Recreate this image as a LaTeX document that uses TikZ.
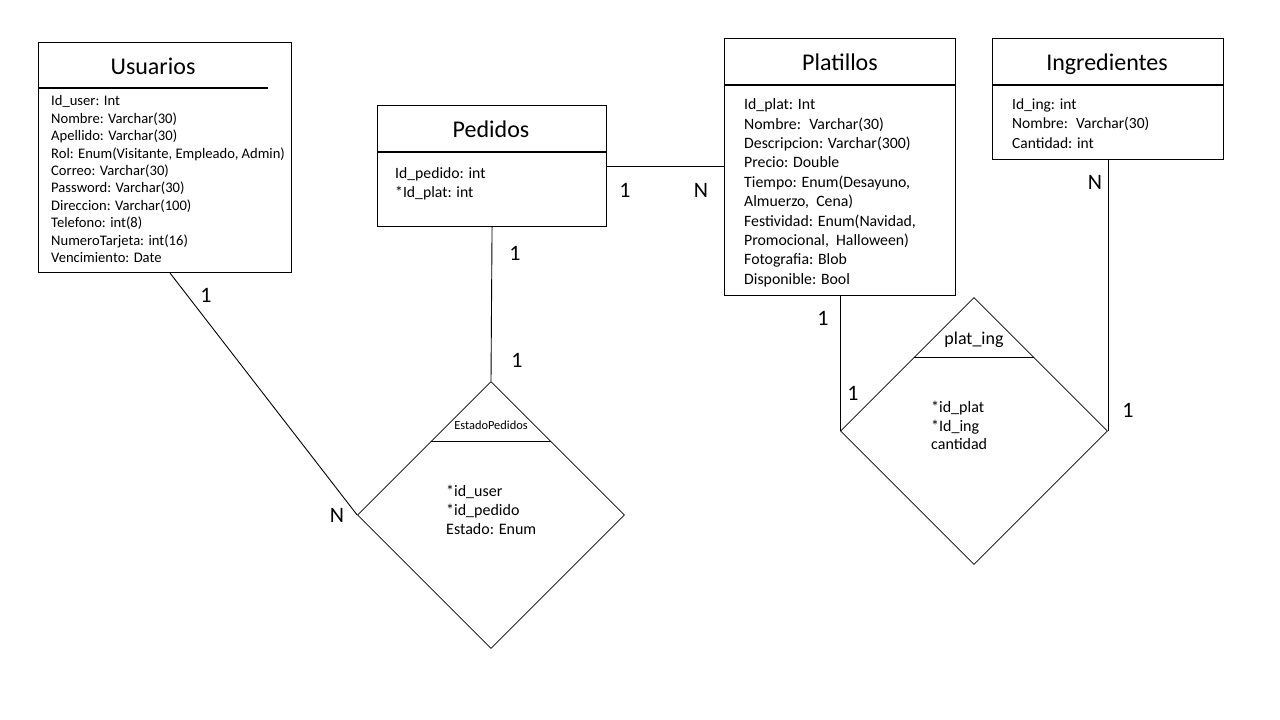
\documentclass[tikz,border=0pt]{standalone}
\usepackage{fontspec}
\setmainfont{Carlito}
\usetikzlibrary{shapes.geometric,calc}
\begin{document}
\begin{tikzpicture}[x=1pt,y=-1pt,
 ent/.style={draw, line width=1.1pt, inner sep=0, anchor=north west},
 rel/.style={draw, diamond, line width=0.7pt, inner sep=0, minimum width=267pt, minimum height=267pt, aspect=1},
 ttl/.style={font=\fontsize{24}{28}\selectfont, inner sep=0, anchor=base},
 attr/.style={align=left, inner sep=0, anchor=north west},
 card/.style={font=\fontsize{22}{26}\selectfont, inner sep=0},
 conn/.style={line width=0.9pt},
 sep/.style={line width=1.1pt}]
\useasboundingbox[fill=white] (0,0) rectangle (1280,720);

% Usuarios
\node[ent, minimum width=253pt, minimum height=230pt] (usu) at (38,42) {};
\coordinate (usuSepA) at (38,88);
\coordinate (usuSepB) at (268,88);
\draw[sep] (usuSepA) -- (usuSepB);
\node[ttl] (usut) at (153,74.5) {Usuarios};
\node[attr, font=\fontsize{14.6}{17.4}\selectfont] (usua) at (51,95.5) {Id\_user: Int\\
Nombre: Varchar(30)\\
Apellido: Varchar(30)\\
Rol: Enum(Visitante, Empleado, Admin)\\
Correo: Varchar(30)\\
Password: Varchar(30)\\
Direccion: Varchar(100)\\
Telefono: int(8)\\
NumeroTarjeta: int(16)\\
Vencimiento: Date};

% Pedidos
\node[ent, minimum width=229pt, minimum height=121pt] (ped) at (377,105) {};
\draw[sep] (ped.west |- 0,152) -- (ped.east |- 0,152);
\node[ttl] (pedt) at (491,137) {Pedidos};
\node[attr, font=\fontsize{15.7}{19}\selectfont] (peda) at (395,167) {Id\_pedido: int\\
*Id\_plat: int};

% Platillos
\node[ent, minimum width=231pt, minimum height=257pt] (plat) at (724,38) {};
\draw[sep] (plat.west |- 0,85) -- (plat.east |- 0,85);
\node[ttl] (platt) at (840,70.5) {Platillos};
\node[attr, font=\fontsize{15.8}{19.4}\selectfont] (plata) at (744,98.5) {Id\_plat: Int\\
Nombre:~ Varchar(30)\\
Descripcion: Varchar(300)\\
Precio: Double\\
Tiempo: Enum(Desayuno,\\
Almuerzo,~ Cena)\\
Festividad: Enum(Navidad,\\
Promocional,~ Halloween)\\
Fotografia: Blob\\
Disponible: Bool};

% Ingredientes
\node[ent, minimum width=231pt, minimum height=121pt] (ing) at (992,38) {};
\draw[sep] (ing.west |- 0,85) -- (ing.east |- 0,85);
\node[ttl] (ingt) at (1107,70.5) {Ingredientes};
\node[attr, font=\fontsize{15.5}{19.4}\selectfont] (inga) at (1012,98.5) {Id\_ing: int\\
Nombre:~ Varchar(30)\\
Cantidad: int};

% EstadoPedidos
\node[rel] (ep) at (491,515) {};
\draw[line width=0.9pt] ($(ep.north)!0.45!(ep.west)$) -- ($(ep.north)!0.45!(ep.east)$);
\node[inner sep=0, font=\fontsize{12.4}{14}\selectfont] (ept) at (491,425) {EstadoPedidos};
\node[attr, font=\fontsize{16}{19}\selectfont] (epa) at (446,485) {*id\_user\\
*id\_pedido\\
Estado: Enum};

% plat_ing
\node[rel] (pi) at (974,431) {};
\draw[line width=0.9pt] ($(pi.north)!0.45!(pi.west)$) -- ($(pi.north)!0.45!(pi.east)$);
\node[inner sep=0, font=\fontsize{18}{20}\selectfont] (pit) at (974,340) {plat\_ing};
\node[attr, font=\fontsize{16}{18.5}\selectfont] (pia) at (931,401) {*id\_plat\\
*Id\_ing\\
cantidad};

% connectors
\draw[conn] ([xshift=5pt]usu.south) -- (ep.west);
\draw[conn] (ped.south) -- (ep.north);
\draw[conn] (ped.east) -- (ped.east -| plat.west);
\draw[conn] (plat.south) -- (plat.south |- pi.west);
\draw[conn] (ing.south) -- (ing.south |- pi.east);

% cardinalities
\node[card] (c1) at (206,295) {1};
\node[card] (c2) at (337,515) {N};
\node[card] (c3) at (515,253) {1};
\node[card] (c4) at (517,360) {1};
\node[card] (c5) at (625,190) {1};
\node[card] (c6) at (701,190) {N};
\node[card] (c7) at (823,318) {1};
\node[card] (c8) at (853,393) {1};
\node[card] (c9) at (1095,182) {N};
\node[card] (c10) at (1128,410) {1};
\end{tikzpicture}
\end{document}
